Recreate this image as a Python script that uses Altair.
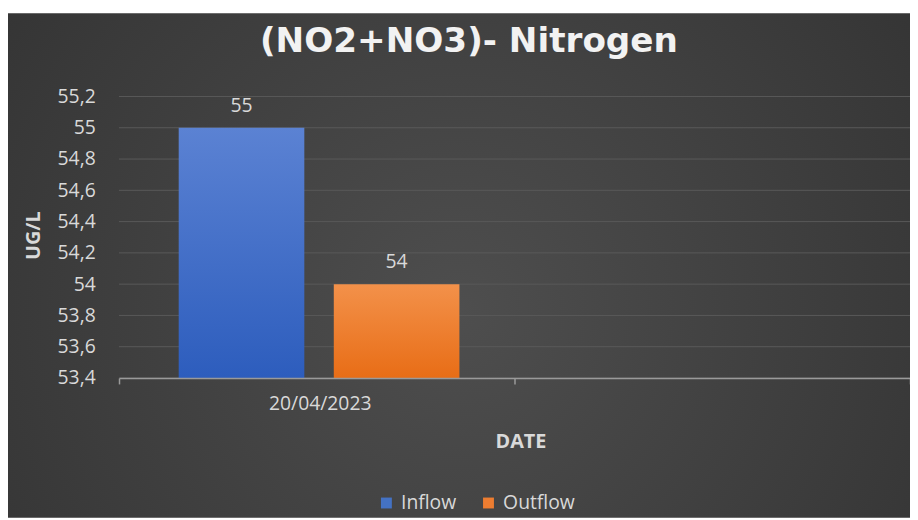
import altair as alt
import pandas as pd

# ---- data ----
dates = ["20/04/2023", "blank"]
series = ["Inflow", "Outflow"]
series_dates = ["20/04/2023", "20/04/2023"]
values = [55, 54]
y_min = 53.4
y_max = 55.2
y_ticks = [53.4, 53.6, 53.8, 54.0, 54.2, 54.4, 54.6, 54.8, 55.0, 55.2]
title_text = ["(NO2+NO3)- Nitrogen"]

df = pd.DataFrame({"date": series_dates, "series": series, "value": values})
bg_df = pd.DataFrame({"k": [0]})
grid_df = pd.DataFrame({"value": y_ticks})
title_df = pd.DataFrame({"t": title_text})

FONT = "Open Sans"
LABEL_COL = "#d9d9d9"
FS = 19.5

x_enc = alt.X(
    "date:N",
    scale=alt.Scale(domain=dates, paddingInner=0, paddingOuter=0),
    axis=alt.Axis(
        title="DATE", zindex=1,
        titleFont=FONT, titleFontSize=20, titleFontWeight="bold", titleColor=LABEL_COL,
        titleX=405, titleY=64, titleBaseline="middle", titleAlign="center",
        labelFont=FONT, labelFontSize=FS, labelColor=LABEL_COL, labelAngle=0,
        labelExpr="datum.value == 'blank' ? '' : datum.value",
        labelPadding=11, labelOffset=3,
        tickBand="extent", tickSize=6, tickColor="#9a9a9a", tickWidth=1.5,
        domainColor="#9a9a9a", domainWidth=1.5, grid=False,
    ),
)
xo_enc = alt.XOffset(
    "series:N",
    scale=alt.Scale(domain=series, paddingInner=0.19, paddingOuter=0.37, align=0.52),
)
y_scale = alt.Scale(domain=[y_min, y_max], zero=False, nice=False)
y_axis = alt.Axis(
    title="UG/L", zindex=1,
    titleFont=FONT, titleFontSize=20, titleFontWeight="bold", titleColor=LABEL_COL,
    titleX=-86, titleY=140, titleBaseline="middle", titleAngle=270,
    values=y_ticks,
    labelExpr="replace(toString(round(datum.value*10)/10), '.', ',')",
    labelFont=FONT, labelFontSize=FS, labelColor=LABEL_COL, labelPadding=24,
    ticks=False, domain=False, grid=False,
)
y_enc = alt.Y("value:Q", scale=y_scale, axis=y_axis)

bg = alt.Chart(bg_df).mark_rect(
    fill=alt.RadialGradient(
        gradient="radial", x1=0.5, y1=0.55, r1=0.0, x2=0.5, y2=0.55, r2=0.75,
        stops=[alt.GradientStop(offset=0, color="#4e4e4e"),
               alt.GradientStop(offset=1, color="#2f2f2f")],
    )
).encode(
    x=alt.value(-112), x2=alt.value(798), y=alt.value(-84), y2=alt.value(425)
)

grid = alt.Chart(grid_df).mark_rule(color="#595959", strokeWidth=1).encode(
    y=y_enc,
    x=alt.value(0), x2=alt.value(798),
)

blue_grad = alt.LinearGradient(
    gradient="linear", x1=0, y1=0, x2=0, y2=1,
    stops=[alt.GradientStop(offset=0, color="#5b82d3"),
           alt.GradientStop(offset=1, color="#2d5dbd")],
)
orange_grad = alt.LinearGradient(
    gradient="linear", x1=0, y1=0, x2=0, y2=1,
    stops=[alt.GradientStop(offset=0, color="#f3914a"),
           alt.GradientStop(offset=1, color="#e86d16")],
)

base = alt.Chart(df)

bars_in = base.transform_filter(alt.datum.series == "Inflow").mark_bar(
    fill=blue_grad
).encode(x=x_enc, xOffset=xo_enc, y=y_enc, y2=alt.datum(y_min))

bars_out = base.transform_filter(alt.datum.series == "Outflow").mark_bar(
    fill=orange_grad
).encode(x=x_enc, xOffset=xo_enc, y=y_enc, y2=alt.datum(y_min))

labels = base.mark_text(
    font=FONT, fontSize=FS, color=LABEL_COL, baseline="bottom", dy=-12
).encode(x=x_enc, xOffset=xo_enc, y=y_enc, text=alt.Text("value:Q"))

legend_layer = base.mark_square(opacity=0, size=1).encode(
    x=x_enc, xOffset=xo_enc, y=y_enc,
    color=alt.Color(
        "series:N",
        scale=alt.Scale(domain=series, range=["#4472c4", "#ed7d31"]),
        legend=alt.Legend(
            title=None, orient="none", legendX=260, legendY=400,
            direction="horizontal", symbolType="square", symbolSize=121,
            symbolOpacity=1, symbolStrokeWidth=0,
            labelFont=FONT, labelFontSize=FS, labelColor=LABEL_COL,
            labelOffset=5, columnPadding=22,
        ),
    ),
)

title = alt.Chart(title_df).mark_text(
    font="DejaVu Sans", fontSize=34.5, fontWeight="bold", color="#f2f2f2",
    align="center", baseline="alphabetic",
).encode(text="t:N", x=alt.value(353), y=alt.value(-45))

chart = alt.layer(bg, grid, bars_in, bars_out, labels, legend_layer, title).properties(
    width=798,
    height=284,
    autosize=alt.AutoSizeParams(type="none"),
    padding={"left": 112, "top": 87, "right": 0, "bottom": 141},
).configure(background="white").configure_view(stroke=None)

chart.save("out.html", embed_options={"renderer": "svg", "actions": False})
